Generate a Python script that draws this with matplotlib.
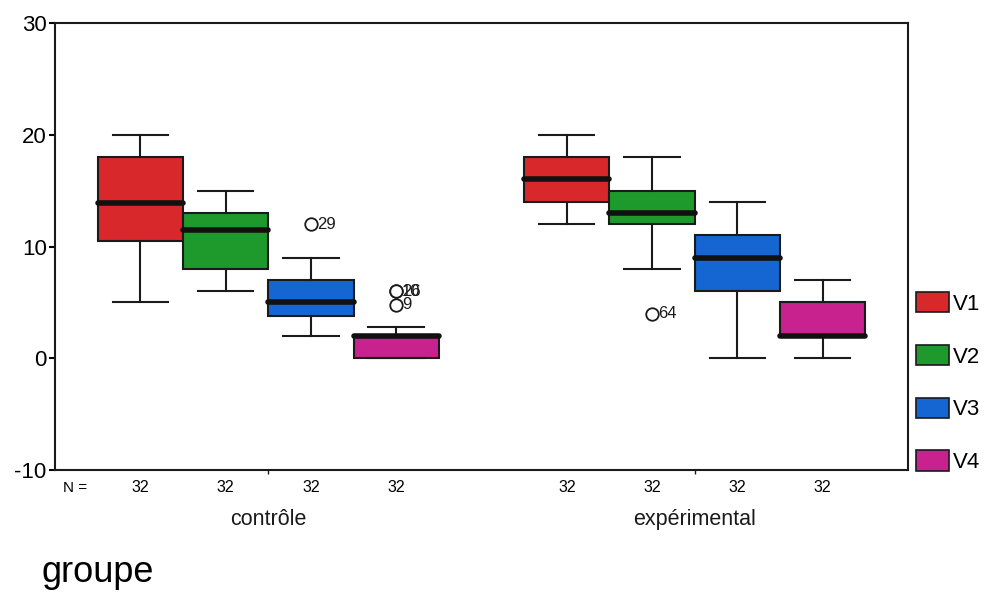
"""
Boxplots V1..V4 per groupe (SPSS style).
"""
import matplotlib
matplotlib.use("Agg")
import matplotlib.pyplot as plt
from matplotlib.patches import Patch

plt.rcParams['font.family'] = ['Liberation Sans', 'DejaVu Sans']
plt.rcParams['axes.unicode_minus'] = False

# groups and variables
groups = ['contrôle', 'expérimental']
variables = ['V1', 'V2', 'V3', 'V4']
colors = ['#d8282c', '#1e9a2c', '#1565d2', '#c8228e']
n_counts = [32, 32, 32, 32, 32, 32, 32, 32]

# five-number summaries (contrôle then expérimental)
whislo = [5, 6, 2, 0, 12, 8, 0, 0]
q1 = [10.5, 8, 3.8, 0, 14, 12, 6, 2]
med = [13.9, 11.5, 5, 2, 16, 13, 9, 2]
q3 = [18, 13, 7, 2, 18, 15, 11, 5]
whishi = [20, 15, 9, 2.8, 20, 18, 14, 7]

# outliers: (box index, value, case label)
outliers = [(2, 12, '29'), (3, 6, '26'), (3, 6, '10'), (3, 4.8, '9'), (5, 4, '64')]

positions = [1, 2, 3, 4, 6, 7, 8, 9]

fig = plt.figure(figsize=(9.85, 5.93), dpi=100)
ax = fig.add_axes([0.0558, 0.2074, 0.866, 0.7538])

stats = []
for i in range(len(positions)):
    stats.append(dict(whislo=whislo[i], q1=q1[i], med=med[i], q3=q3[i],
                      whishi=whishi[i], fliers=[]))

bp = ax.bxp(stats, positions=positions, widths=1.0, patch_artist=True,
            showfliers=False,
            boxprops=dict(edgecolor='#1a1a1a', linewidth=1.5),
            whiskerprops=dict(color='#1a1a1a', linewidth=1.5),
            capprops=dict(color='#1a1a1a', linewidth=1.5),
            medianprops=dict(color='#111111', linewidth=4, solid_capstyle='round'),
            capwidths=0.65)
for i, box in enumerate(bp['boxes']):
    box.set_facecolor(colors[i % 4])

for idx, val, lab in outliers:
    x = positions[idx]
    ax.plot(x, val, 'o', mfc='white', mec='#1a1a1a', ms=9, mew=1.3, zorder=4)
    ax.text(x + 0.07, val, lab, fontsize=12, va='center', ha='left',
            color='#1a1a1a')

ax.set_xlim(0, 10)
ax.set_ylim(-10, 30)
ax.set_yticks([-10, 0, 10, 20, 30])
ax.tick_params(axis='y', labelsize=16, length=4, width=1.5, direction='out',
               pad=2)
ax.set_xticks([2.5, 7.5])
ax.set_xticklabels(groups)
ax.tick_params(axis='x', labelsize=15.5, length=3, width=1, direction='out',
               pad=25, colors='#1a1a1a')
for s in ax.spines.values():
    s.set_linewidth(1.5)
    s.set_color('#1a1a1a')

# N row
ax.text(0.24, -11.6, 'N =', fontsize=11, ha='center', va='center')
for p, n in zip(positions, n_counts):
    ax.text(p, -11.6, str(n), fontsize=11.5, ha='center', va='center')

fig.text(0.042, 0.018, 'groupe', fontsize=26, ha='left', va='baseline')

handles = [Patch(facecolor=c, edgecolor='#1a1a1a', linewidth=1.2) for c in colors]
fig.legend(handles, variables, loc='upper left', bbox_to_anchor=(0.93, 0.508),
           frameon=False, fontsize=16, handlelength=1.5, handleheight=1.05,
           handletextpad=0.15, labelspacing=1.35, borderaxespad=0,
           borderpad=0)

fig.savefig('out.png', dpi=100)
